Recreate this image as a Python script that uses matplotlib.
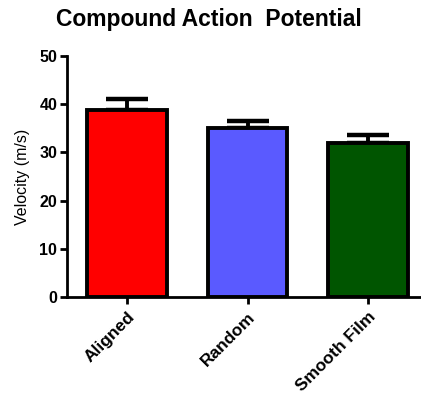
import numpy as np
import matplotlib.pyplot as plt

plt.rcParams['font.family'] = ['Liberation Sans', 'DejaVu Sans']

groups = ['Aligned', 'Random', 'Smooth Film']
velocity = [38.8, 35.0, 32.0]
sem = [2.3, 1.6, 1.7]
colors = ['#FF0000', '#5A5AFF', '#005500']

fig = plt.figure(figsize=(4.21, 4.0), dpi=100)
ax = fig.add_axes([67/421, 1 - 297/400, 353/421, (297 - 56)/400])

x = np.arange(len(groups))
ax.bar(x, velocity, width=0.66, color=colors, edgecolor='black', linewidth=2.8, zorder=2)
ax.errorbar(x, velocity, yerr=[np.zeros(len(sem)), sem], fmt='none', ecolor='black',
            elinewidth=2.8, capsize=15, capthick=3.2, zorder=1)

ax.set_xlim(-0.5, 2.43)
ax.set_ylim(0, 50)
ax.set_yticks([0, 10, 20, 30, 40, 50])
ax.set_xticks(x)
ax.set_xticklabels(groups, rotation=45, ha='right', rotation_mode='anchor',
                   fontweight='bold', fontsize=12.5)
for lab in ax.get_yticklabels():
    lab.set_fontweight('bold')
    lab.set_fontsize(11.5)
ax.tick_params(width=2, length=5, pad=2)
ax.tick_params(axis='x', pad=4)
ax.spines['top'].set_visible(False)
ax.spines['right'].set_visible(False)
ax.spines['left'].set_linewidth(2)
ax.spines['bottom'].set_linewidth(2)
ax.set_ylabel('Velocity (m/s)', fontsize=11.5, labelpad=7)
fig.text(0.495, 0.952, 'Compound Action  Potential', ha='center', va='center',
         fontsize=16.5, fontweight='bold')

fig.savefig('out.png', dpi=100)
